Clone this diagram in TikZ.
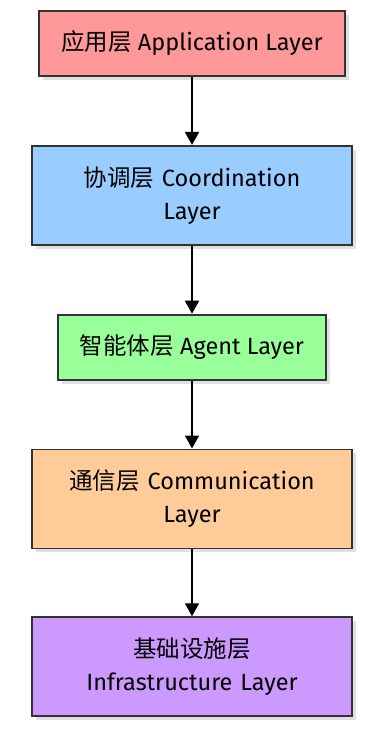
\documentclass[tikz,border=0pt]{standalone}
\usepackage{fontspec}
\setmainfont{Fira Sans}
\newfontfamily\cjk{Noto Sans CJK SC}
\usepackage{xcolor}
\usetikzlibrary{positioning, arrows.meta, shadows}

\definecolor{appred}{HTML}{FF9999}
\definecolor{coordblue}{HTML}{99CCFF}
\definecolor{agentgreen}{HTML}{99FF99}
\definecolor{commorange}{HTML}{FFCC99}
\definecolor{infrapurple}{HTML}{CC99FF}
\definecolor{edgegray}{HTML}{333333}

\begin{document}
\begin{tikzpicture}[
    layer/.style={draw=edgegray, line width=1.8pt, minimum height=65pt,
                  inner xsep=22pt, align=center, font=\fontsize{23.5}{33}\selectfont,
                  drop shadow={shadow xshift=4pt, shadow yshift=-4pt,
                               fill=black!12, opacity=1}},
    widelayer/.style={layer, text width=276pt, minimum height=99pt},
    arw/.style={-{Triangle[length=13pt, width=14pt]}, line width=1.8pt},
]
\useasboundingbox (0pt, 0pt) rectangle (386pt, -735pt);

% --- Layer stack ---
\node[layer, fill=appred] (app) at (192pt, -43.5pt)
    {{\cjk 应用层} Application Layer};
\node[widelayer, fill=coordblue, below=68pt of app] (coord)
    {{\cjk 协调层} Coordination\\Layer};
\node[layer, fill=agentgreen, below=68pt of coord] (agent)
    {{\cjk 智能体层} Agent Layer};
\node[widelayer, fill=commorange, below=68pt of agent] (comm)
    {{\cjk 通信层} Communication\\Layer};
\node[widelayer, fill=infrapurple, below=67pt of comm] (infra)
    {{\cjk 基础设施层}\\Infrastructure Layer};

% --- Flow arrows ---
\draw[arw] (app) -- (coord);
\draw[arw] (coord) -- (agent);
\draw[arw] (agent) -- (comm);
\draw[arw] (comm) -- (infra);
\end{tikzpicture}
\end{document}
